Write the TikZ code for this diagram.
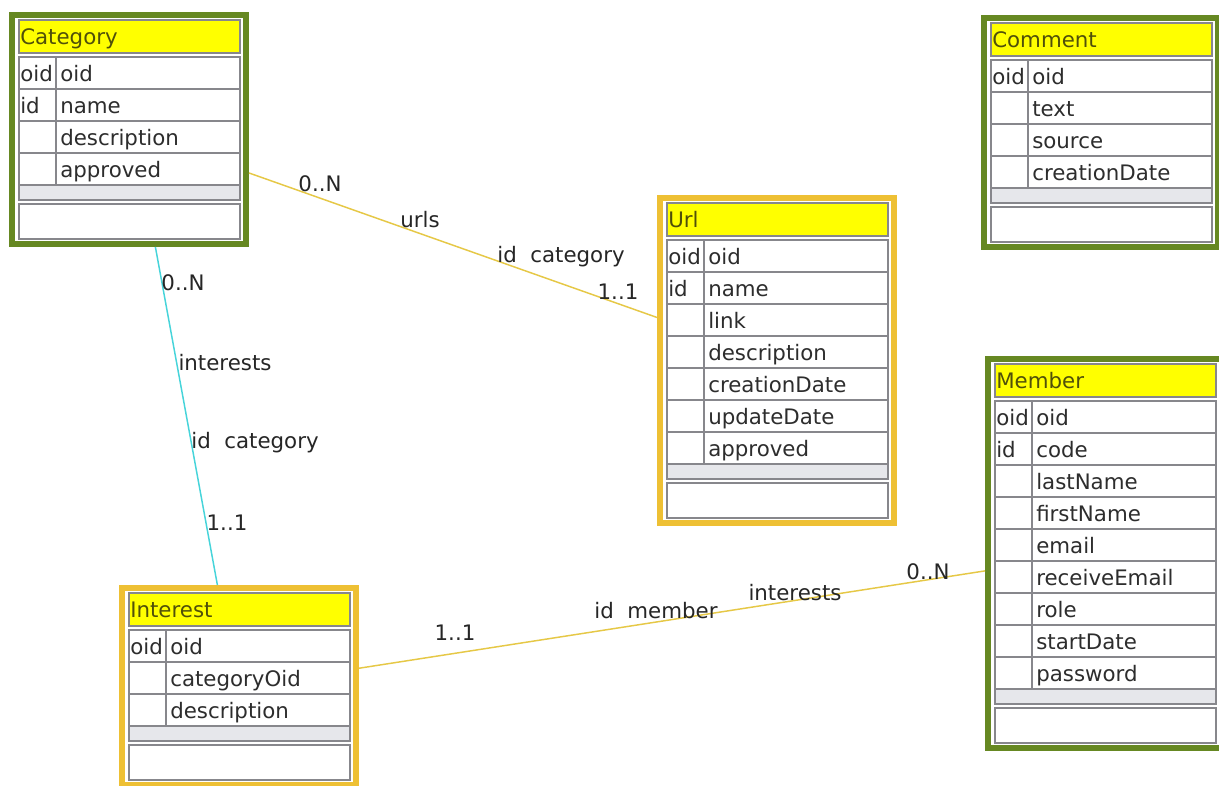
\documentclass[tikz,border=0pt]{standalone}
\usepackage{fontspec}
\setmainfont{DejaVu Sans}
\usetikzlibrary{calc}

\definecolor{framegreen}{RGB}{102,136,34}
\definecolor{framegold}{RGB}{238,192,52}
\definecolor{titleyellow}{RGB}{255,255,0}
\definecolor{titleink}{RGB}{80,80,10}
\definecolor{cellink}{RGB}{45,45,45}
\definecolor{gridgray}{RGB}{135,135,140}
\definecolor{bandgray}{RGB}{230,231,235}
\definecolor{linkgold}{RGB}{230,200,70}
\definecolor{linkcyan}{RGB}{70,212,218}

\tikzset{
  erframe/.style={line width=4.5pt, fill=white, minimum width=234*0.75pt, inner sep=0pt, anchor=north west},
  gridline/.style={draw=gridgray, line width=0.9pt},
  titletext/.style={text=titleink, inner sep=0pt, anchor=base west},
  cell/.style={text=cellink, inner sep=0pt, anchor=base west},
  linklabel/.style={text=black!85, inner sep=0pt},
}

% #1 name, #2 x, #3 y, #4 frame colour, #5 rows, #6 title, #7 key/attribute list
\newcommand{\erentity}[7]{%
  \node[erframe, draw=#4, minimum height={(101+32*#5)*0.75pt}] (#1) at (#2,#3) {};
  \draw[gridline, fill=titleyellow] (#2+10,#3+8) rectangle (#2+231,#3+41);
  \node[titletext] (#1-title) at (#2+11,#3+32) {#6};
  \foreach \k/\a [count=\i from 0] in {#7} {
    \draw[gridline] (#2+10,#3+45+32*\i) rectangle (#2+231,#3+77+32*\i);
    \node[cell] (#1-k\i) at (#2+11,#3+69+32*\i) {\k};
    \node[cell] (#1-a\i) at (#2+51,#3+69+32*\i) {\a};
  }
  \draw[gridline] (#2+47,#3+45) -- (#2+47,#3+45+32*#5);
  \draw[gridline, fill=bandgray] (#2+10,#3+45+32*#5) rectangle (#2+231,#3+60+32*#5);
  \draw[gridline] (#2+10,#3+64+32*#5) rectangle (#2+231,#3+99+32*#5);
}

\begin{document}
\begin{tikzpicture}[x=0.75pt, y=-0.75pt, font=\fontsize{16}{19}\selectfont]

	\useasboundingbox[fill=white] (0,0) rectangle (1219,785);

	% entities
	\erentity{category}{9}{12}{framegreen}{4}{Category}{oid/oid, id/name, {}/description, {}/approved}
	\erentity{url}{657}{195}{framegold}{7}{Url}{oid/oid, id/name, {}/link, {}/description, {}/creationDate, {}/updateDate, {}/approved}
	\erentity{comment}{981}{15}{framegreen}{4}{Comment}{oid/oid, {}/text, {}/source, {}/creationDate}
	\erentity{member}{985}{356}{framegreen}{9}{Member}{oid/oid, id/code, {}/lastName, {}/firstName, {}/email, {}/receiveEmail, {}/role, {}/startDate, {}/password}
	\erentity{interest}{119}{585}{framegold}{3}{Interest}{oid/oid, {}/categoryOid, {}/description}

	% category -- url
	\draw[linkgold, line width=1.1pt] ($(category.north east)!0.685!(category.south east)$) -- ($(url.north west)!0.37!(url.south west)$);
	\node[linklabel] (urls-n) at (320,184) {0..N};
	\node[linklabel] (urls-role) at (420,220) {urls};
	\node[linklabel] (urls-key) at (561,257) {id~~category};
	\node[linklabel] (urls-one) at (618,292) {1..1};

	% category -- interest
	\draw[linkcyan, line width=1.1pt] ($(category.south west)!0.61!(category.south east)$) -- ($(interest.north west)!0.41!(interest.north east)$);
	\node[linklabel] (catint-n) at (183,283) {0..N};
	\node[linklabel] (catint-role) at (225,363) {interests};
	\node[linklabel] (catint-key) at (255,443) {id~~category};
	\node[linklabel] (catint-one) at (227,523) {1..1};

	% interest -- member
	\draw[linkgold, line width=1.1pt] ($(interest.north east)!0.41!(interest.south east)$) -- ($(member.north west)!0.544!(member.south west)$);
	\node[linklabel] (memint-one) at (455,633) {1..1};
	\node[linklabel] (memint-key) at (656,611) {id~~member};
	\node[linklabel] (memint-role) at (795,593) {interests};
	\node[linklabel] (memint-n) at (928,572) {0..N};

\end{tikzpicture}
\end{document}
